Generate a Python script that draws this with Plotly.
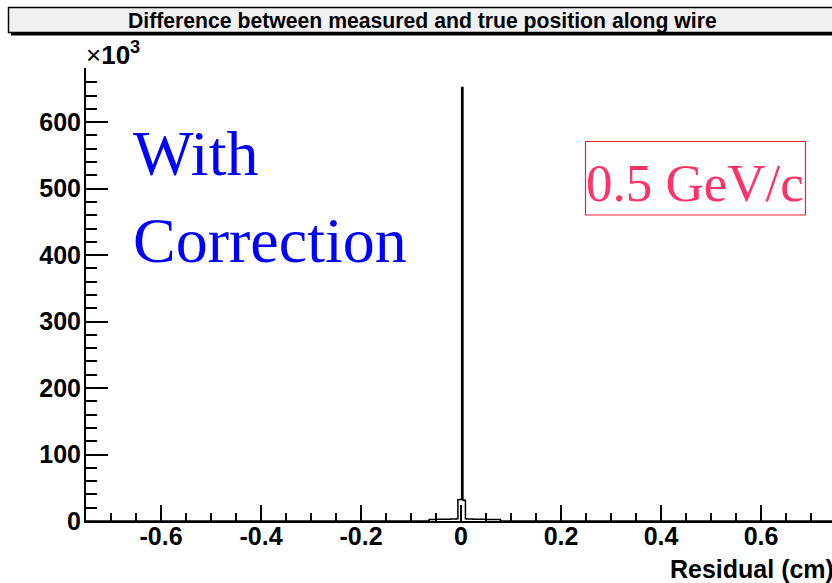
import plotly.graph_objects as go

# ---------------- data ----------------
bin_width = 0.0025
first_bin_center = -0.0625
# counts per 0.0025-wide bin, starting at residual -0.0625
counts = [2300, 2300, 2400, 2400, 2400, 2500, 2500, 2500, 2500, 2600,
          2600, 2600, 2700, 2700, 2700, 2800, 2800, 2900, 2900, 3000,
          3000, 3100, 3200, 32000, 32500, 32500, 652000, 31500, 31000,
          3200, 3100, 3000, 3000, 2900, 2900, 2800, 2800, 2700, 2700,
          2600, 2600, 2600, 2500, 2500, 2500, 2400, 2400, 2400, 2300,
          2300, 2300, 2200, 2200, 2200, 2200, 2100, 2100]
x_range = [-0.75, 0.7418]
y_range = [0, 681500]
x_tick_vals = [-0.6, -0.4, -0.2, 0.0, 0.2, 0.4, 0.6]
x_tick_text = ["-0.6", "-0.4", "-0.2", "0", "0.2", "0.4", "0.6"]
y_tick_vals = [0, 100000, 200000, 300000, 400000, 500000, 600000]
y_tick_text = ["0", "100", "200", "300", "400", "500", "600"]
title_text = "Difference between measured and true position along wire"
x_title = "Residual (cm)"

# ---------------- build step outline ----------------
centers = [first_bin_center + i * bin_width for i in range(len(counts))]
step_x = [x_range[0]] + [c - bin_width / 2 for c in centers] + \
         [centers[-1] + bin_width / 2, 0.75]
step_y = [0] + counts + [0, 0]

W, H = 832, 583
L, R, T, B = 86, 832, 68, 521


def px(X):
    return (X - L) / (R - L)


def py(Y):
    return (B - Y) / (B - T)


SANS = "Liberation Sans, Arial, Helvetica, sans-serif"
SERIF = "Liberation Serif, Times New Roman, serif"

fig = go.Figure()
fig.add_trace(go.Scatter(
    x=step_x, y=step_y, mode="lines", line=dict(color="black", width=1.5, shape="hv"),
    hoverinfo="skip", showlegend=False))

fig.update_layout(
    width=W, height=H,
    margin=dict(l=L, r=W - R, t=T, b=H - B, pad=0),
    paper_bgcolor="white", plot_bgcolor="white",
    showlegend=False,
    font=dict(family=SANS, color="black"),
    xaxis=dict(
        range=x_range, showgrid=False, zeroline=False,
        showline=True, linecolor="black", linewidth=2,
        tickmode="array", tickvals=x_tick_vals, ticktext=x_tick_text,
        ticks="inside", ticklen=16, tickwidth=1.5, tickcolor="black",
        ticklabelstandoff=-8,
        tickfont=dict(family=SANS, size=25, color="black", weight="bold"),
        minor=dict(tickmode="linear", tick0=0, dtick=0.05, ticks="inside",
                   ticklen=8, tickwidth=1.5, tickcolor="black"),
    ),
    yaxis=dict(
        range=y_range, showgrid=False, zeroline=False,
        showline=True, linecolor="black", linewidth=2,
        tickmode="array", tickvals=y_tick_vals, ticktext=y_tick_text,
        ticks="inside", ticklen=22, tickwidth=1.5, tickcolor="black",
        ticklabelstandoff=-2,
        tickfont=dict(family=SANS, size=25, color="black", weight="bold"),
        minor=dict(tickmode="linear", tick0=0, dtick=20000, ticks="inside",
                   ticklen=11, tickwidth=1.5, tickcolor="black"),
    ),
)

# title box with shadow
fig.add_shape(type="rect", xref="paper", yref="paper",
              x0=px(11), x1=px(850), y0=py(35.5), y1=py(10),
              fillcolor="black", line=dict(width=0), layer="above")
fig.add_shape(type="rect", xref="paper", yref="paper",
              x0=px(8.5), x1=px(848), y0=py(32.5), y1=py(7.5),
              fillcolor="#f1f1f1", line=dict(color="black", width=1.5), layer="above")
fig.add_annotation(xref="paper", yref="paper", x=px(422), y=py(20.5),
                   text="<b>" + title_text + "</b>", showarrow=False,
                   xanchor="center", yanchor="middle",
                   font=dict(family=SANS, size=21.2, color="black"))

# x10^3
fig.add_annotation(xref="paper", yref="paper", x=px(84), y=py(53),
                   text="×<b>10<sup>3</sup></b>", showarrow=False,
                   xanchor="left", yanchor="middle",
                   font=dict(family=SANS, size=26, color="black"))

# axis title
fig.add_annotation(xref="paper", yref="paper", x=px(836), y=py(569),
                   text="<b>" + x_title + "</b>", showarrow=False,
                   xanchor="right", yanchor="middle",
                   font=dict(family=SANS, size=25, color="black"))

# With / Correction
fig.add_annotation(xref="paper", yref="paper", x=px(131), y=py(153),
                   text="With", showarrow=False, xanchor="left", yanchor="middle",
                   font=dict(family=SERIF, size=64, color="#0000ff"))
fig.add_annotation(xref="paper", yref="paper", x=px(131), y=py(241),
                   text="Correction", showarrow=False, xanchor="left", yanchor="middle",
                   font=dict(family=SERIF, size=64, color="#0000ff"))

# 0.5 GeV/c box
fig.add_shape(type="rect", xref="paper", yref="paper",
              x0=px(585.5), x1=px(805.5), y0=py(215), y1=py(141.5),
              fillcolor="rgba(0,0,0,0)", line=dict(color="#e8262e", width=1.2),
              layer="above")
fig.add_annotation(xref="paper", yref="paper", x=px(695), y=py(182.5),
                   text="0.5 GeV/c", showarrow=False, xanchor="center", yanchor="middle",
                   font=dict(family=SERIF, size=53, color="#ff3366"))

fig.write_html("out.html")
